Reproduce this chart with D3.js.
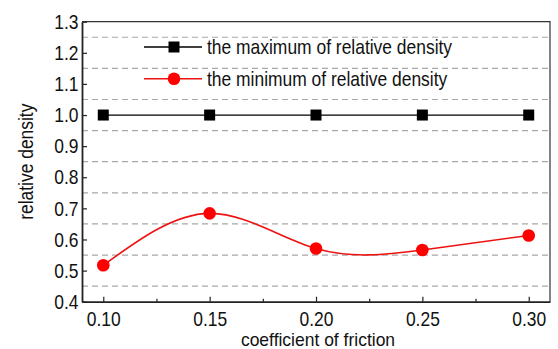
<!DOCTYPE html>
<html>
<head>
<meta charset="utf-8">
<script src="https://cdn.jsdelivr.net/npm/d3@7"></script>
<style>
  body { margin: 0; background: #fff; }
  svg text { font-family: "Liberation Sans", Arial, sans-serif; font-size: 21px; fill: #111; }
</style>
</head>
<body>
<script>
var friction = [0.10, 0.15, 0.20, 0.25, 0.30];
var maxDensity = [1.0, 1.0, 1.0, 1.0, 1.0];
var minDensity = [0.517, 0.684, 0.571, 0.566, 0.613];
var xTicks = [0.10, 0.15, 0.20, 0.25, 0.30];
var xMinor = [0.125, 0.175, 0.225, 0.275];
var yTicks = [0.4, 0.5, 0.6, 0.7, 0.8, 0.9, 1.0, 1.1, 1.2, 1.3];
var gridVals = [0.45, 0.55, 0.65, 0.75, 0.85, 0.95, 1.05, 1.15, 1.25];
var seriesNames = ["the maximum of relative density", "the minimum of relative density"];

var margin = {top: 21.7, right: 8, bottom: 47.3, left: 82},
    width = 558 - margin.left - margin.right,
    height = 349 - margin.top - margin.bottom;

var svg = d3.select("body").append("svg")
    .attr("width", 558)
    .attr("height", 349)
    .append("g")
    .attr("transform", "translate(" + margin.left + "," + margin.top + ")");

var x = d3.scaleLinear().domain([0.09, 0.31]).range([0, width]);
var y = d3.scaleLinear().domain([0.4, 1.3]).range([height, 0]);

// dashed grid at half steps
svg.selectAll(".grid")
  .data(gridVals)
  .enter().append("line")
  .attr("x1", 0).attr("x2", width)
  .attr("y1", function(d) { return y(d); })
  .attr("y2", function(d) { return y(d); })
  .style("stroke", "#a8a8a8")
  .style("stroke-width", 1.2)
  .style("stroke-dasharray", "6,4");

// frame (top + right)
svg.append("path")
  .attr("d", "M0,0H" + width + "V" + height)
  .style("fill", "none")
  .style("stroke", "#333")
  .style("stroke-width", 1.2);

var xAxis = d3.axisBottom(x).tickValues(xTicks)
  .tickFormat(d3.format(".2f")).tickSizeInner(-5).tickSizeOuter(0).tickPadding(9);
var yAxis = d3.axisLeft(y).tickValues(yTicks)
  .tickFormat(d3.format(".1f")).tickSizeInner(-5).tickSizeOuter(0).tickPadding(3.5);

var gx = svg.append("g")
  .attr("transform", "translate(0," + height + ")")
  .call(xAxis);
svg.append("g")
  .attr("transform", "translate(0," + height + ")")
  .call(d3.axisBottom(x).tickValues(xMinor).tickSizeInner(-3).tickSizeOuter(0).tickFormat(""))
  .select(".domain").remove();
var gy = svg.append("g").call(yAxis);

[gx, gy].forEach(function(g) {
  g.select(".domain").style("stroke", "#222").style("stroke-width", 1.8);
  g.selectAll("text").attr("font-size", null).attr("font-family", null);
});
svg.selectAll(".tick line").style("stroke", "#222").style("stroke-width", 1.2);

// axis titles
svg.append("text")
  .attr("x", width / 2 + 2)
  .attr("y", 346.5 - margin.top)
  .style("text-anchor", "middle")
  .style("font-size", "19px")
  .text("coefficient of friction");

svg.append("text")
  .attr("transform", "rotate(-90)")
  .attr("x", -height / 2)
  .attr("y", -margin.left + 33)
  .style("text-anchor", "middle")
  .text("relative density");

var maxData = friction.map(function(f, i) { return {x: f, y: maxDensity[i]}; });
var minData = friction.map(function(f, i) { return {x: f, y: minDensity[i]}; });

var line = d3.line()
  .x(function(d) { return x(d.x); })
  .y(function(d) { return y(d.y); });

svg.append("path")
  .datum(maxData)
  .attr("d", line)
  .style("fill", "none")
  .style("stroke", "#000")
  .style("stroke-width", 1.3);

svg.append("path")
  .datum(minData)
  .attr("d", line.curve(d3.curveNatural))
  .style("fill", "none")
  .style("stroke", "#ee1111")
  .style("stroke-width", 1.6);

svg.selectAll(".sq")
  .data(maxData)
  .enter().append("rect")
  .attr("x", function(d) { return x(d.x) - 5.5; })
  .attr("y", function(d) { return y(d.y) - 5.5; })
  .attr("width", 11).attr("height", 11)
  .style("fill", "#000");

svg.selectAll(".dot")
  .data(minData)
  .enter().append("circle")
  .attr("cx", function(d) { return x(d.x); })
  .attr("cy", function(d) { return y(d.y); })
  .attr("r", 6.3)
  .style("fill", "#ff0000");

// legend
var legend = svg.append("g").attr("transform", "translate(" + (144 - margin.left) + ",0)");
var rows = [25.3, 57];

legend.append("line").attr("x1", 0).attr("x2", 58).attr("y1", rows[0]).attr("y2", rows[0])
  .style("stroke", "#000").style("stroke-width", 1.3);
legend.append("rect").attr("x", 24.5).attr("y", rows[0] - 5.5).attr("width", 11).attr("height", 11)
  .style("fill", "#000");
legend.append("line").attr("x1", 0).attr("x2", 58).attr("y1", rows[1]).attr("y2", rows[1])
  .style("stroke", "#ee1111").style("stroke-width", 1.6);
legend.append("circle").attr("cx", 30).attr("cy", rows[1]).attr("r", 6.3)
  .style("fill", "#ff0000");

legend.selectAll(".lt")
  .data(seriesNames)
  .enter().append("text")
  .attr("x", 63)
  .attr("y", function(d, i) { return rows[i]; })
  .attr("dy", "0.35em")
  .text(function(d) { return d; });

// the original uses a narrow face: squeeze labels horizontally to the widths seen
svg.selectAll("text").each(function() {
  var w = this.getComputedTextLength();
  var k = parseFloat(getComputedStyle(this).fontSize) < 20 ? 0.92 : 0.83;
  d3.select(this)
    .attr("textLength", w * k)
    .attr("lengthAdjust", "spacingAndGlyphs");
});
</script>
</body>
</html>
